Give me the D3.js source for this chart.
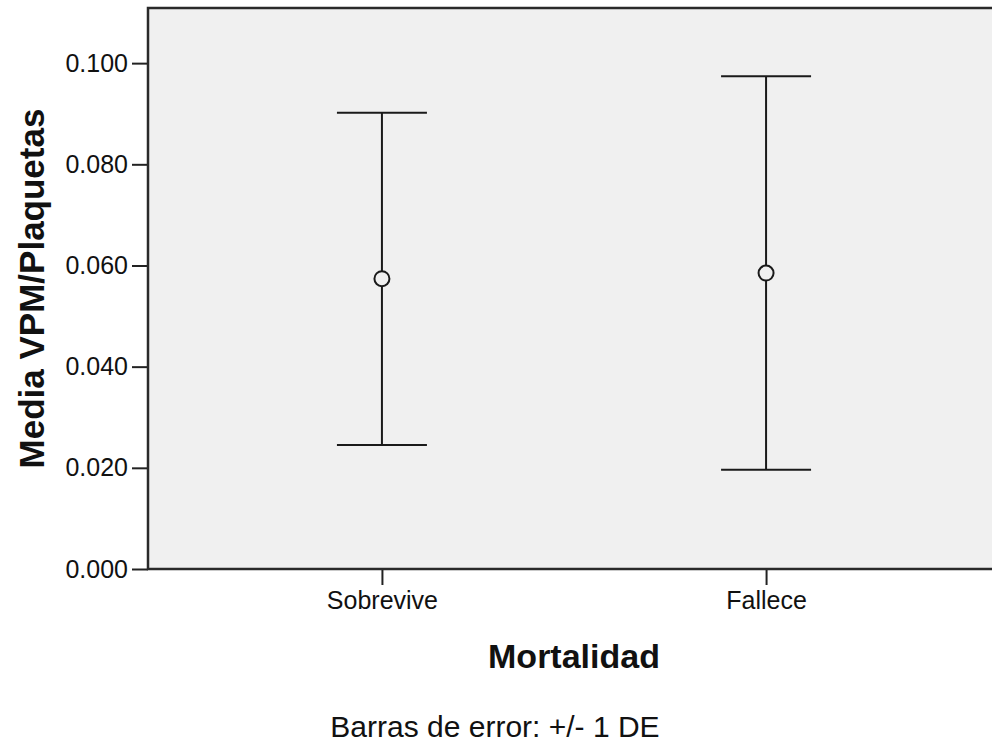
<!DOCTYPE html>
<html>
<head>
<meta charset="utf-8">
<script src="https://cdn.jsdelivr.net/npm/d3@7"></script>
<style>
  body { margin: 0; background: #ffffff; }
  svg { display: block; font-family: "Liberation Sans", Arial, sans-serif; }
</style>
</head>
<body>
<svg id="chart" width="992" height="749"></svg>
<script>
// Mean VPM/Platelet ratio by mortality group, error bars = +/- 1 SD
const categories = ["Sobrevive", "Fallece"];
const means = [0.0574, 0.0585];
const upper = [0.0902, 0.0974];
const lower = [0.0245, 0.0196];
const yTicks = [0.000, 0.020, 0.040, 0.060, 0.080, 0.100];

const svg = d3.select("#chart");
const frame = { left: 148, right: 1000, top: 8, bottom: 569 };

const y = d3.scaleLinear().domain([0, 0.1109]).range([frame.bottom, frame.top]);
const x = d3.scalePoint().domain(categories)
  .range([frame.left, frame.right]).padding(0.609);

// plot background
svg.append("rect")
  .attr("x", frame.left).attr("y", frame.top)
  .attr("width", frame.right - frame.left).attr("height", frame.bottom - frame.top)
  .attr("fill", "#f0f0f0");

// y axis
const yAxis = svg.append("g")
  .attr("transform", `translate(${frame.left},0)`)
  .call(d3.axisLeft(y).tickValues(yTicks).tickFormat(d3.format(".3f")).tickSize(16).tickPadding(4));
yAxis.select(".domain").remove();
yAxis.selectAll(".tick line").attr("stroke", "#222").attr("stroke-width", 2);
yAxis.selectAll(".tick text")
  .attr("fill", "#111").style("font-size", "25px").style("font-family", "'Liberation Sans', Arial, sans-serif");

// x axis
const xAxis = svg.append("g")
  .attr("transform", `translate(0,${frame.bottom})`)
  .call(d3.axisBottom(x).tickSize(16).tickPadding(6));
xAxis.select(".domain").remove();
xAxis.selectAll(".tick line").attr("stroke", "#222").attr("stroke-width", 2);
xAxis.selectAll(".tick text")
  .attr("fill", "#111").style("font-size", "25px").style("font-family", "'Liberation Sans', Arial, sans-serif");

// frame border (left, top, bottom)
svg.append("path")
  .attr("d", `M${frame.right + 5},${frame.top}H${frame.left}V${frame.bottom}H${frame.right + 5}`)
  .attr("fill", "none").attr("stroke", "#2a2a2a").attr("stroke-width", 2.5);

// error bars
const capHalf = 45;
const bars = svg.append("g").selectAll("g")
  .data(categories.map((c, i) => ({ c, m: means[i], hi: upper[i], lo: lower[i] })))
  .join("g")
  .attr("stroke", "#1a1a1a").attr("stroke-width", 2).attr("fill", "none");

bars.append("line")
  .attr("x1", d => x(d.c)).attr("x2", d => x(d.c))
  .attr("y1", d => y(d.hi)).attr("y2", d => y(d.lo));
bars.append("line")
  .attr("x1", d => x(d.c) - capHalf).attr("x2", d => x(d.c) + capHalf)
  .attr("y1", d => y(d.hi)).attr("y2", d => y(d.hi));
bars.append("line")
  .attr("x1", d => x(d.c) - capHalf).attr("x2", d => x(d.c) + capHalf)
  .attr("y1", d => y(d.lo)).attr("y2", d => y(d.lo));
bars.append("circle")
  .attr("cx", d => x(d.c)).attr("cy", d => y(d.m)).attr("r", 7.5)
  .attr("fill", "#f0f0f0");

// axis titles
svg.append("text")
  .attr("x", (frame.left + frame.right) / 2).attr("y", 668)
  .attr("text-anchor", "middle").attr("font-weight", "bold").attr("font-size", 34)
  .attr("fill", "#111").text("Mortalidad");

svg.append("text")
  .attr("transform", `translate(44,${(frame.top + frame.bottom) / 2}) rotate(-90)`)
  .attr("text-anchor", "middle").attr("font-weight", "bold").attr("font-size", 35)
  .attr("fill", "#111").text("Media VPM/Plaquetas");

// footnote
svg.append("text")
  .attr("x", 495).attr("y", 737)
  .attr("text-anchor", "middle").attr("font-size", 30)
  .attr("fill", "#111").text("Barras de error: +/- 1 DE");
</script>
</body>
</html>
